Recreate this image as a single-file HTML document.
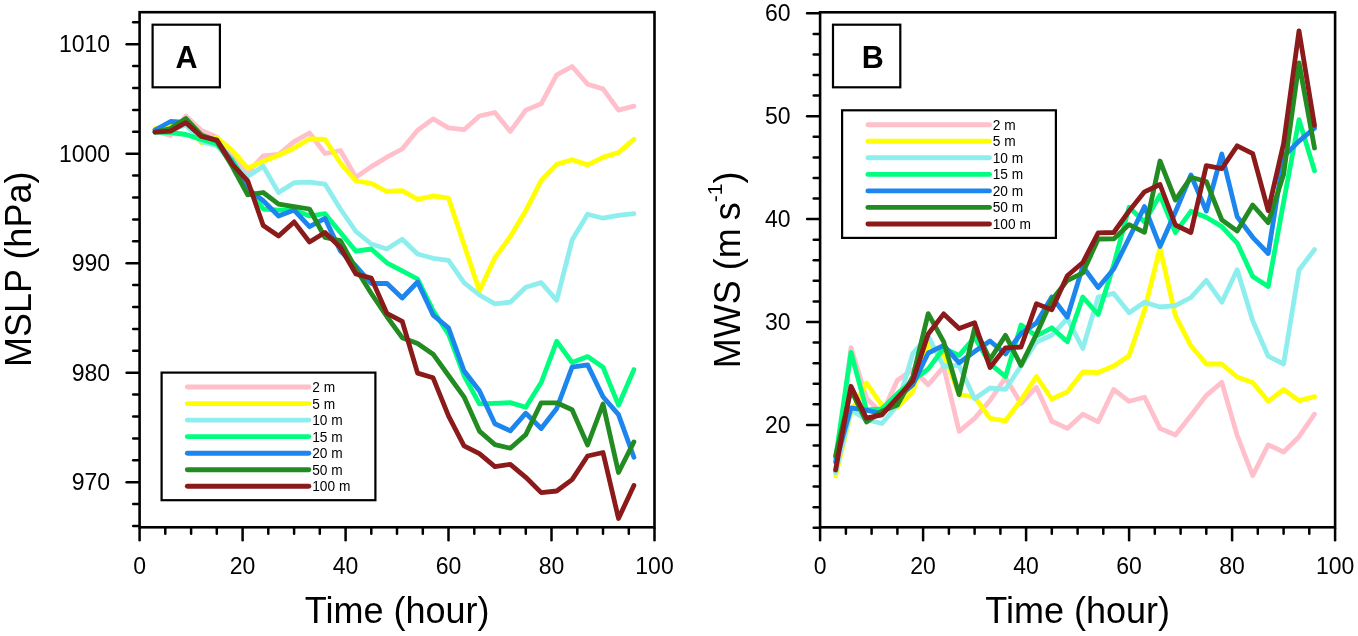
<!DOCTYPE html>
<html><head><meta charset="utf-8"><style>
html,body{margin:0;padding:0;background:#fff;width:1358px;height:636px;overflow:hidden}
svg{display:block;will-change:transform}
text{font-family:"Liberation Sans", sans-serif;fill:#000}
.tk{font-size:23px}
.tt{font-size:36px}
.lb{font-size:30.5px;font-weight:bold}
.lg{font-size:14.7px}
</style></head><body>
<svg width="1358" height="636" viewBox="0 0 1358 636">
<rect width="1358" height="636" fill="#fff"/>
<polyline points="155.0,131.0 170.5,135.4 185.9,116.0 201.4,130.5 216.8,137.0 232.3,155.0 247.7,172.3 263.2,155.9 278.6,154.5 294.1,141.7 309.5,133.0 325.0,153.5 340.4,150.5 355.9,177.3 371.3,166.6 386.8,157.2 402.2,149.0 417.6,130.2 433.1,118.9 448.5,127.8 464.0,129.7 479.4,116.0 494.9,112.5 510.3,131.4 525.8,110.1 541.2,103.8 556.7,74.8 572.1,66.5 587.6,84.2 603.0,88.9 618.5,110.1 633.9,106.1" fill="none" stroke="#ffc0cb" stroke-width="4.8" stroke-linejoin="round" stroke-linecap="round"/>
<polyline points="155.0,128.5 170.5,126.0 185.9,122.0 201.4,142.7 216.8,137.5 232.3,150.5 247.7,168.0 263.2,161.5 278.6,155.2 294.1,148.0 309.5,139.0 325.0,139.3 340.4,163.0 355.9,181.0 371.3,183.3 386.8,191.5 402.2,190.7 417.6,199.3 433.1,196.0 448.5,198.2 464.0,244.5 479.4,290.8 494.9,257.8 510.3,236.6 525.8,210.7 541.2,180.5 556.7,164.4 572.1,159.7 587.6,164.9 603.0,157.3 618.5,152.6 633.9,139.2" fill="none" stroke="#ffff00" stroke-width="4.8" stroke-linejoin="round" stroke-linecap="round"/>
<polyline points="155.0,132.0 170.5,130.0 185.9,125.0 201.4,142.0 216.8,145.4 232.3,163.0 247.7,176.5 263.2,166.2 278.6,192.6 294.1,182.7 309.5,182.2 325.0,184.1 340.4,209.0 355.9,231.5 371.3,244.0 386.8,249.0 402.2,239.3 417.6,254.0 433.1,258.3 448.5,260.3 464.0,282.6 479.4,295.0 494.9,303.8 510.3,302.2 525.8,287.3 541.2,282.6 556.7,300.3 572.1,240.1 587.6,214.2 603.0,218.2 618.5,215.4 633.9,213.7" fill="none" stroke="#8eeeee" stroke-width="4.8" stroke-linejoin="round" stroke-linecap="round"/>
<polyline points="155.0,132.0 170.5,132.5 185.9,134.5 201.4,139.5 216.8,144.0 232.3,160.0 247.7,185.0 263.2,209.0 278.6,210.1 294.1,210.1 309.5,216.0 325.0,213.7 340.4,232.5 355.9,251.2 371.3,249.0 386.8,262.8 402.2,270.8 417.6,279.0 433.1,310.6 448.5,334.2 464.0,375.5 479.4,403.8 494.9,403.3 510.3,402.6 525.8,407.3 541.2,382.5 556.7,341.3 572.1,362.5 587.6,356.6 603.0,367.2 618.5,405.2 633.9,369.6" fill="none" stroke="#00ff7f" stroke-width="4.8" stroke-linejoin="round" stroke-linecap="round"/>
<polyline points="155.0,130.0 170.5,121.5 185.9,122.5 201.4,136.0 216.8,140.0 232.3,163.0 247.7,188.9 263.2,200.7 278.6,216.0 294.1,210.1 309.5,226.7 325.0,218.4 340.4,251.0 355.9,266.0 371.3,283.5 386.8,283.3 402.2,298.0 417.6,282.0 433.1,315.1 448.5,327.8 464.0,370.8 479.4,390.8 494.9,423.8 510.3,430.9 525.8,413.2 541.2,428.5 556.7,408.5 572.1,367.2 587.6,364.9 603.0,396.7 618.5,414.6 633.9,457.2" fill="none" stroke="#1c86ee" stroke-width="4.8" stroke-linejoin="round" stroke-linecap="round"/>
<polyline points="155.0,132.0 170.5,128.6 185.9,118.6 201.4,135.0 216.8,141.0 232.3,166.5 247.7,194.8 263.2,192.5 278.6,204.2 294.1,206.6 309.5,209.0 325.0,237.5 340.4,240.7 355.9,268.7 371.3,293.5 386.8,316.5 402.2,337.7 417.6,343.6 433.1,354.2 448.5,375.5 464.0,396.8 479.4,431.1 494.9,444.6 510.3,448.2 525.8,434.6 541.2,402.8 556.7,402.8 572.1,409.8 587.6,445.0 603.0,404.0 618.5,472.5 633.9,441.9" fill="none" stroke="#228b22" stroke-width="4.8" stroke-linejoin="round" stroke-linecap="round"/>
<polyline points="155.0,132.1 170.5,131.2 185.9,122.6 201.4,136.5 216.8,140.1 232.3,164.3 247.7,180.8 263.2,225.5 278.6,236.1 294.1,221.9 309.5,242.0 325.0,232.5 340.4,247.5 355.9,274.0 371.3,278.1 386.8,313.3 402.2,321.3 417.6,373.1 433.1,377.8 448.5,415.8 464.0,445.8 479.4,453.7 494.9,466.7 510.3,464.3 525.8,477.3 541.2,492.6 556.7,491.0 572.1,479.6 587.6,456.0 603.0,452.5 618.5,518.5 633.9,485.5" fill="none" stroke="#8b1a1a" stroke-width="4.8" stroke-linejoin="round" stroke-linecap="round"/>
<rect x="139.6" y="12.2" width="514.9" height="515.1" fill="none" stroke="#000" stroke-width="2.6"/>
<line x1="139.6" y1="528.5" x2="139.6" y2="540.3" stroke="#000" stroke-width="2.5" stroke-linecap="round"/>
<text x="139.6" y="574.1" text-anchor="middle" class="tk">0</text>
<line x1="165.3" y1="528.5" x2="165.3" y2="533.7" stroke="#000" stroke-width="2.5" stroke-linecap="round"/>
<line x1="191.1" y1="528.5" x2="191.1" y2="533.7" stroke="#000" stroke-width="2.5" stroke-linecap="round"/>
<line x1="216.8" y1="528.5" x2="216.8" y2="533.7" stroke="#000" stroke-width="2.5" stroke-linecap="round"/>
<line x1="242.6" y1="528.5" x2="242.6" y2="540.3" stroke="#000" stroke-width="2.5" stroke-linecap="round"/>
<text x="242.6" y="574.1" text-anchor="middle" class="tk">20</text>
<line x1="268.3" y1="528.5" x2="268.3" y2="533.7" stroke="#000" stroke-width="2.5" stroke-linecap="round"/>
<line x1="294.1" y1="528.5" x2="294.1" y2="533.7" stroke="#000" stroke-width="2.5" stroke-linecap="round"/>
<line x1="319.8" y1="528.5" x2="319.8" y2="533.7" stroke="#000" stroke-width="2.5" stroke-linecap="round"/>
<line x1="345.6" y1="528.5" x2="345.6" y2="540.3" stroke="#000" stroke-width="2.5" stroke-linecap="round"/>
<text x="345.6" y="574.1" text-anchor="middle" class="tk">40</text>
<line x1="371.3" y1="528.5" x2="371.3" y2="533.7" stroke="#000" stroke-width="2.5" stroke-linecap="round"/>
<line x1="397.0" y1="528.5" x2="397.0" y2="533.7" stroke="#000" stroke-width="2.5" stroke-linecap="round"/>
<line x1="422.8" y1="528.5" x2="422.8" y2="533.7" stroke="#000" stroke-width="2.5" stroke-linecap="round"/>
<line x1="448.5" y1="528.5" x2="448.5" y2="540.3" stroke="#000" stroke-width="2.5" stroke-linecap="round"/>
<text x="448.5" y="574.1" text-anchor="middle" class="tk">60</text>
<line x1="474.3" y1="528.5" x2="474.3" y2="533.7" stroke="#000" stroke-width="2.5" stroke-linecap="round"/>
<line x1="500.0" y1="528.5" x2="500.0" y2="533.7" stroke="#000" stroke-width="2.5" stroke-linecap="round"/>
<line x1="525.8" y1="528.5" x2="525.8" y2="533.7" stroke="#000" stroke-width="2.5" stroke-linecap="round"/>
<line x1="551.5" y1="528.5" x2="551.5" y2="540.3" stroke="#000" stroke-width="2.5" stroke-linecap="round"/>
<text x="551.5" y="574.1" text-anchor="middle" class="tk">80</text>
<line x1="577.3" y1="528.5" x2="577.3" y2="533.7" stroke="#000" stroke-width="2.5" stroke-linecap="round"/>
<line x1="603.0" y1="528.5" x2="603.0" y2="533.7" stroke="#000" stroke-width="2.5" stroke-linecap="round"/>
<line x1="628.8" y1="528.5" x2="628.8" y2="533.7" stroke="#000" stroke-width="2.5" stroke-linecap="round"/>
<line x1="654.5" y1="528.5" x2="654.5" y2="540.3" stroke="#000" stroke-width="2.5" stroke-linecap="round"/>
<text x="654.5" y="574.1" text-anchor="middle" class="tk">100</text>
<line x1="133.2" y1="526.0" x2="138.3" y2="526.0" stroke="#000" stroke-width="2.5" stroke-linecap="round"/>
<line x1="133.2" y1="504.1" x2="138.3" y2="504.1" stroke="#000" stroke-width="2.5" stroke-linecap="round"/>
<line x1="126.6" y1="482.2" x2="138.3" y2="482.2" stroke="#000" stroke-width="2.5" stroke-linecap="round"/>
<text x="110.1" y="490.0" text-anchor="end" class="tk">970</text>
<line x1="133.2" y1="460.3" x2="138.3" y2="460.3" stroke="#000" stroke-width="2.5" stroke-linecap="round"/>
<line x1="133.2" y1="438.4" x2="138.3" y2="438.4" stroke="#000" stroke-width="2.5" stroke-linecap="round"/>
<line x1="133.2" y1="416.5" x2="138.3" y2="416.5" stroke="#000" stroke-width="2.5" stroke-linecap="round"/>
<line x1="133.2" y1="394.6" x2="138.3" y2="394.6" stroke="#000" stroke-width="2.5" stroke-linecap="round"/>
<line x1="126.6" y1="372.7" x2="138.3" y2="372.7" stroke="#000" stroke-width="2.5" stroke-linecap="round"/>
<text x="110.1" y="380.5" text-anchor="end" class="tk">980</text>
<line x1="133.2" y1="350.8" x2="138.3" y2="350.8" stroke="#000" stroke-width="2.5" stroke-linecap="round"/>
<line x1="133.2" y1="328.9" x2="138.3" y2="328.9" stroke="#000" stroke-width="2.5" stroke-linecap="round"/>
<line x1="133.2" y1="307.0" x2="138.3" y2="307.0" stroke="#000" stroke-width="2.5" stroke-linecap="round"/>
<line x1="133.2" y1="285.1" x2="138.3" y2="285.1" stroke="#000" stroke-width="2.5" stroke-linecap="round"/>
<line x1="126.6" y1="263.2" x2="138.3" y2="263.2" stroke="#000" stroke-width="2.5" stroke-linecap="round"/>
<text x="110.1" y="271.0" text-anchor="end" class="tk">990</text>
<line x1="133.2" y1="241.3" x2="138.3" y2="241.3" stroke="#000" stroke-width="2.5" stroke-linecap="round"/>
<line x1="133.2" y1="219.4" x2="138.3" y2="219.4" stroke="#000" stroke-width="2.5" stroke-linecap="round"/>
<line x1="133.2" y1="197.5" x2="138.3" y2="197.5" stroke="#000" stroke-width="2.5" stroke-linecap="round"/>
<line x1="133.2" y1="175.6" x2="138.3" y2="175.6" stroke="#000" stroke-width="2.5" stroke-linecap="round"/>
<line x1="126.6" y1="153.7" x2="138.3" y2="153.7" stroke="#000" stroke-width="2.5" stroke-linecap="round"/>
<text x="110.1" y="161.5" text-anchor="end" class="tk">1000</text>
<line x1="133.2" y1="131.8" x2="138.3" y2="131.8" stroke="#000" stroke-width="2.5" stroke-linecap="round"/>
<line x1="133.2" y1="109.9" x2="138.3" y2="109.9" stroke="#000" stroke-width="2.5" stroke-linecap="round"/>
<line x1="133.2" y1="88.0" x2="138.3" y2="88.0" stroke="#000" stroke-width="2.5" stroke-linecap="round"/>
<line x1="133.2" y1="66.1" x2="138.3" y2="66.1" stroke="#000" stroke-width="2.5" stroke-linecap="round"/>
<line x1="126.6" y1="44.2" x2="138.3" y2="44.2" stroke="#000" stroke-width="2.5" stroke-linecap="round"/>
<text x="110.1" y="52.0" text-anchor="end" class="tk">1010</text>
<line x1="133.2" y1="22.3" x2="138.3" y2="22.3" stroke="#000" stroke-width="2.5" stroke-linecap="round"/>
<rect x="152.6" y="24.7" width="67.3" height="62.6" fill="#fff" stroke="#000" stroke-width="2.2"/>
<text x="186.4" y="67.9" text-anchor="middle" class="lb">A</text>
<rect x="161.6" y="372.6" width="213.8" height="127.6" fill="#fff" stroke="#000" stroke-width="2.2"/>
<line x1="187.3" y1="387.0" x2="308.9" y2="387.0" stroke="#ffc0cb" stroke-width="4.9" stroke-linecap="round"/>
<text transform="translate(312.20,391.95) scale(0.934,1)" class="lg">2 m</text>
<line x1="187.3" y1="403.6" x2="308.9" y2="403.6" stroke="#ffff00" stroke-width="4.9" stroke-linecap="round"/>
<text transform="translate(312.20,408.50) scale(0.934,1)" class="lg">5 m</text>
<line x1="187.3" y1="420.1" x2="308.9" y2="420.1" stroke="#8eeeee" stroke-width="4.9" stroke-linecap="round"/>
<text transform="translate(312.20,425.05) scale(0.934,1)" class="lg">10 m</text>
<line x1="187.3" y1="436.6" x2="308.9" y2="436.6" stroke="#00ff7f" stroke-width="4.9" stroke-linecap="round"/>
<text transform="translate(312.20,441.60) scale(0.934,1)" class="lg">15 m</text>
<line x1="187.3" y1="453.2" x2="308.9" y2="453.2" stroke="#1c86ee" stroke-width="4.9" stroke-linecap="round"/>
<text transform="translate(312.20,458.15) scale(0.934,1)" class="lg">20 m</text>
<line x1="187.3" y1="469.8" x2="308.9" y2="469.8" stroke="#228b22" stroke-width="4.9" stroke-linecap="round"/>
<text transform="translate(312.20,474.70) scale(0.934,1)" class="lg">50 m</text>
<line x1="187.3" y1="486.3" x2="308.9" y2="486.3" stroke="#8b1a1a" stroke-width="4.9" stroke-linecap="round"/>
<text transform="translate(312.20,491.25) scale(0.934,1)" class="lg">100 m</text>
<text x="397.1" y="622.7" text-anchor="middle" class="tt">Time (hour)</text>
<text transform="translate(31.4,367) rotate(-90)" class="tt">MSLP (hPa)</text>
<polyline points="835.6,472.0 851.0,347.7 866.5,398.3 881.9,413.7 897.4,380.2 912.8,369.5 928.2,384.8 943.7,366.9 959.1,431.3 974.6,418.4 990.0,400.5 1005.5,377.7 1021.0,403.5 1036.4,387.2 1051.8,421.3 1067.3,428.4 1082.8,414.2 1098.2,421.8 1113.7,389.5 1129.1,401.3 1144.5,397.3 1160.0,428.4 1175.4,435.0 1190.9,415.4 1206.3,395.4 1221.8,382.4 1237.2,435.5 1252.7,475.6 1268.2,444.9 1283.6,452.0 1299.0,436.7 1314.5,414.2" fill="none" stroke="#ffc0cb" stroke-width="4.8" stroke-linejoin="round" stroke-linecap="round"/>
<polyline points="835.6,476.0 851.0,412.0 866.5,383.0 881.9,405.4 897.4,407.3 912.8,391.4 928.2,344.2 943.7,353.9 959.1,394.6 974.6,397.0 990.0,418.4 1005.5,420.8 1021.0,400.0 1036.4,376.5 1051.8,399.0 1067.3,391.9 1082.8,372.0 1098.2,372.5 1113.7,366.0 1129.1,355.8 1144.5,310.2 1160.0,248.0 1175.4,315.7 1190.9,345.8 1206.3,364.0 1221.8,364.0 1237.2,377.0 1252.7,382.4 1268.2,401.3 1283.6,389.5 1299.0,400.6 1314.5,396.6" fill="none" stroke="#ffff00" stroke-width="4.8" stroke-linejoin="round" stroke-linecap="round"/>
<polyline points="835.6,472.6 851.0,410.0 866.5,419.6 881.9,423.5 897.4,405.4 912.8,353.6 928.2,336.0 943.7,366.5 959.1,365.4 974.6,398.7 990.0,388.0 1005.5,389.3 1021.0,366.0 1036.4,342.0 1051.8,335.2 1067.3,318.7 1082.8,348.5 1098.2,297.0 1113.7,293.4 1129.1,312.8 1144.5,302.2 1160.0,307.0 1175.4,305.7 1190.9,297.5 1206.3,280.4 1221.8,302.2 1237.2,269.8 1252.7,320.8 1268.2,356.2 1283.6,364.0 1299.0,270.0 1314.5,249.6" fill="none" stroke="#8eeeee" stroke-width="4.8" stroke-linejoin="round" stroke-linecap="round"/>
<polyline points="835.6,458.0 851.0,352.4 866.5,410.0 881.9,409.0 897.4,393.6 912.8,380.7 928.2,369.0 943.7,348.3 959.1,355.4 974.6,337.4 990.0,363.7 1005.5,376.7 1021.0,325.0 1036.4,336.0 1051.8,327.8 1067.3,341.8 1082.8,297.0 1098.2,314.5 1113.7,265.0 1129.1,207.2 1144.5,221.9 1160.0,195.0 1175.4,232.5 1190.9,211.3 1206.3,217.2 1221.8,226.6 1237.2,243.1 1252.7,276.4 1268.2,286.5 1283.6,202.0 1299.0,119.6 1314.5,170.7" fill="none" stroke="#00ff7f" stroke-width="4.8" stroke-linejoin="round" stroke-linecap="round"/>
<polyline points="835.6,462.0 851.0,407.9 866.5,410.1 881.9,413.7 897.4,398.3 912.8,384.8 928.2,353.0 943.7,345.4 959.1,362.8 974.6,351.6 990.0,341.0 1005.5,354.0 1021.0,333.6 1036.4,323.0 1051.8,297.0 1067.3,317.2 1082.8,266.5 1098.2,287.5 1113.7,269.0 1129.1,238.0 1144.5,206.6 1160.0,246.4 1175.4,212.0 1190.9,175.0 1206.3,211.0 1221.8,154.0 1237.2,216.8 1252.7,237.3 1268.2,253.5 1283.6,156.6 1299.0,141.1 1314.5,128.1" fill="none" stroke="#1c86ee" stroke-width="4.8" stroke-linejoin="round" stroke-linecap="round"/>
<polyline points="835.6,456.0 851.0,390.0 866.5,422.0 881.9,411.3 897.4,405.0 912.8,377.0 928.2,313.6 943.7,341.9 959.1,394.6 974.6,328.0 990.0,359.5 1005.5,335.4 1021.0,365.4 1036.4,334.3 1051.8,300.0 1067.3,280.6 1082.8,272.8 1098.2,239.0 1113.7,238.9 1129.1,224.6 1144.5,232.3 1160.0,161.0 1175.4,200.0 1190.9,177.3 1206.3,181.5 1221.8,219.9 1237.2,231.0 1252.7,205.0 1268.2,222.6 1283.6,174.2 1299.0,62.8 1314.5,148.0" fill="none" stroke="#228b22" stroke-width="4.8" stroke-linejoin="round" stroke-linecap="round"/>
<polyline points="835.6,470.0 851.0,386.3 866.5,418.2 881.9,414.8 897.4,397.5 912.8,380.8 928.2,334.0 943.7,313.9 959.1,328.6 974.6,322.7 990.0,367.5 1005.5,347.8 1021.0,347.0 1036.4,303.8 1051.8,309.7 1067.3,275.8 1082.8,262.5 1098.2,232.8 1113.7,232.5 1129.1,211.0 1144.5,191.8 1160.0,184.5 1175.4,225.0 1190.9,232.5 1206.3,165.6 1221.8,168.7 1237.2,145.8 1252.7,153.7 1268.2,210.6 1283.6,143.5 1299.0,30.8 1314.5,125.4" fill="none" stroke="#8b1a1a" stroke-width="4.8" stroke-linejoin="round" stroke-linecap="round"/>
<rect x="820.1" y="12.3" width="515.0" height="515.0" fill="none" stroke="#000" stroke-width="2.6"/>
<line x1="820.1" y1="528.5" x2="820.1" y2="540.3" stroke="#000" stroke-width="2.5" stroke-linecap="round"/>
<text x="820.1" y="574.1" text-anchor="middle" class="tk">0</text>
<line x1="845.9" y1="528.5" x2="845.9" y2="533.7" stroke="#000" stroke-width="2.5" stroke-linecap="round"/>
<line x1="871.6" y1="528.5" x2="871.6" y2="533.7" stroke="#000" stroke-width="2.5" stroke-linecap="round"/>
<line x1="897.4" y1="528.5" x2="897.4" y2="533.7" stroke="#000" stroke-width="2.5" stroke-linecap="round"/>
<line x1="923.1" y1="528.5" x2="923.1" y2="540.3" stroke="#000" stroke-width="2.5" stroke-linecap="round"/>
<text x="923.1" y="574.1" text-anchor="middle" class="tk">20</text>
<line x1="948.9" y1="528.5" x2="948.9" y2="533.7" stroke="#000" stroke-width="2.5" stroke-linecap="round"/>
<line x1="974.6" y1="528.5" x2="974.6" y2="533.7" stroke="#000" stroke-width="2.5" stroke-linecap="round"/>
<line x1="1000.4" y1="528.5" x2="1000.4" y2="533.7" stroke="#000" stroke-width="2.5" stroke-linecap="round"/>
<line x1="1026.1" y1="528.5" x2="1026.1" y2="540.3" stroke="#000" stroke-width="2.5" stroke-linecap="round"/>
<text x="1026.1" y="574.1" text-anchor="middle" class="tk">40</text>
<line x1="1051.8" y1="528.5" x2="1051.8" y2="533.7" stroke="#000" stroke-width="2.5" stroke-linecap="round"/>
<line x1="1077.6" y1="528.5" x2="1077.6" y2="533.7" stroke="#000" stroke-width="2.5" stroke-linecap="round"/>
<line x1="1103.3" y1="528.5" x2="1103.3" y2="533.7" stroke="#000" stroke-width="2.5" stroke-linecap="round"/>
<line x1="1129.1" y1="528.5" x2="1129.1" y2="540.3" stroke="#000" stroke-width="2.5" stroke-linecap="round"/>
<text x="1129.1" y="574.1" text-anchor="middle" class="tk">60</text>
<line x1="1154.8" y1="528.5" x2="1154.8" y2="533.7" stroke="#000" stroke-width="2.5" stroke-linecap="round"/>
<line x1="1180.6" y1="528.5" x2="1180.6" y2="533.7" stroke="#000" stroke-width="2.5" stroke-linecap="round"/>
<line x1="1206.3" y1="528.5" x2="1206.3" y2="533.7" stroke="#000" stroke-width="2.5" stroke-linecap="round"/>
<line x1="1232.1" y1="528.5" x2="1232.1" y2="540.3" stroke="#000" stroke-width="2.5" stroke-linecap="round"/>
<text x="1232.1" y="574.1" text-anchor="middle" class="tk">80</text>
<line x1="1257.8" y1="528.5" x2="1257.8" y2="533.7" stroke="#000" stroke-width="2.5" stroke-linecap="round"/>
<line x1="1283.6" y1="528.5" x2="1283.6" y2="533.7" stroke="#000" stroke-width="2.5" stroke-linecap="round"/>
<line x1="1309.3" y1="528.5" x2="1309.3" y2="533.7" stroke="#000" stroke-width="2.5" stroke-linecap="round"/>
<line x1="1335.1" y1="528.5" x2="1335.1" y2="540.3" stroke="#000" stroke-width="2.5" stroke-linecap="round"/>
<text x="1335.1" y="574.1" text-anchor="middle" class="tk">100</text>
<line x1="813.7" y1="527.8" x2="818.9" y2="527.8" stroke="#000" stroke-width="2.5" stroke-linecap="round"/>
<line x1="813.7" y1="507.2" x2="818.9" y2="507.2" stroke="#000" stroke-width="2.5" stroke-linecap="round"/>
<line x1="813.7" y1="486.6" x2="818.9" y2="486.6" stroke="#000" stroke-width="2.5" stroke-linecap="round"/>
<line x1="813.7" y1="466.1" x2="818.9" y2="466.1" stroke="#000" stroke-width="2.5" stroke-linecap="round"/>
<line x1="813.7" y1="445.5" x2="818.9" y2="445.5" stroke="#000" stroke-width="2.5" stroke-linecap="round"/>
<line x1="807.1" y1="424.9" x2="818.9" y2="424.9" stroke="#000" stroke-width="2.5" stroke-linecap="round"/>
<text x="790.6" y="432.7" text-anchor="end" class="tk">20</text>
<line x1="813.7" y1="404.3" x2="818.9" y2="404.3" stroke="#000" stroke-width="2.5" stroke-linecap="round"/>
<line x1="813.7" y1="383.7" x2="818.9" y2="383.7" stroke="#000" stroke-width="2.5" stroke-linecap="round"/>
<line x1="813.7" y1="363.2" x2="818.9" y2="363.2" stroke="#000" stroke-width="2.5" stroke-linecap="round"/>
<line x1="813.7" y1="342.6" x2="818.9" y2="342.6" stroke="#000" stroke-width="2.5" stroke-linecap="round"/>
<line x1="807.1" y1="322.0" x2="818.9" y2="322.0" stroke="#000" stroke-width="2.5" stroke-linecap="round"/>
<text x="790.6" y="329.8" text-anchor="end" class="tk">30</text>
<line x1="813.7" y1="301.4" x2="818.9" y2="301.4" stroke="#000" stroke-width="2.5" stroke-linecap="round"/>
<line x1="813.7" y1="280.8" x2="818.9" y2="280.8" stroke="#000" stroke-width="2.5" stroke-linecap="round"/>
<line x1="813.7" y1="260.3" x2="818.9" y2="260.3" stroke="#000" stroke-width="2.5" stroke-linecap="round"/>
<line x1="813.7" y1="239.7" x2="818.9" y2="239.7" stroke="#000" stroke-width="2.5" stroke-linecap="round"/>
<line x1="807.1" y1="219.1" x2="818.9" y2="219.1" stroke="#000" stroke-width="2.5" stroke-linecap="round"/>
<text x="790.6" y="226.9" text-anchor="end" class="tk">40</text>
<line x1="813.7" y1="198.5" x2="818.9" y2="198.5" stroke="#000" stroke-width="2.5" stroke-linecap="round"/>
<line x1="813.7" y1="177.9" x2="818.9" y2="177.9" stroke="#000" stroke-width="2.5" stroke-linecap="round"/>
<line x1="813.7" y1="157.4" x2="818.9" y2="157.4" stroke="#000" stroke-width="2.5" stroke-linecap="round"/>
<line x1="813.7" y1="136.8" x2="818.9" y2="136.8" stroke="#000" stroke-width="2.5" stroke-linecap="round"/>
<line x1="807.1" y1="116.2" x2="818.9" y2="116.2" stroke="#000" stroke-width="2.5" stroke-linecap="round"/>
<text x="790.6" y="124.0" text-anchor="end" class="tk">50</text>
<line x1="813.7" y1="95.6" x2="818.9" y2="95.6" stroke="#000" stroke-width="2.5" stroke-linecap="round"/>
<line x1="813.7" y1="75.0" x2="818.9" y2="75.0" stroke="#000" stroke-width="2.5" stroke-linecap="round"/>
<line x1="813.7" y1="54.5" x2="818.9" y2="54.5" stroke="#000" stroke-width="2.5" stroke-linecap="round"/>
<line x1="813.7" y1="33.9" x2="818.9" y2="33.9" stroke="#000" stroke-width="2.5" stroke-linecap="round"/>
<line x1="807.1" y1="13.3" x2="818.9" y2="13.3" stroke="#000" stroke-width="2.5" stroke-linecap="round"/>
<text x="790.6" y="21.1" text-anchor="end" class="tk">60</text>
<rect x="833.0" y="24.7" width="67.3" height="62.6" fill="#fff" stroke="#000" stroke-width="2.2"/>
<text x="872.8" y="67.9" text-anchor="middle" class="lb">B</text>
<rect x="842.1" y="110.3" width="213.8" height="127.6" fill="#fff" stroke="#000" stroke-width="2.2"/>
<line x1="867.9" y1="124.7" x2="989.5" y2="124.7" stroke="#ffc0cb" stroke-width="4.9" stroke-linecap="round"/>
<text transform="translate(992.70,129.65) scale(0.934,1)" class="lg">2 m</text>
<line x1="867.9" y1="141.2" x2="989.5" y2="141.2" stroke="#ffff00" stroke-width="4.9" stroke-linecap="round"/>
<text transform="translate(992.70,146.20) scale(0.934,1)" class="lg">5 m</text>
<line x1="867.9" y1="157.8" x2="989.5" y2="157.8" stroke="#8eeeee" stroke-width="4.9" stroke-linecap="round"/>
<text transform="translate(992.70,162.75) scale(0.934,1)" class="lg">10 m</text>
<line x1="867.9" y1="174.4" x2="989.5" y2="174.4" stroke="#00ff7f" stroke-width="4.9" stroke-linecap="round"/>
<text transform="translate(992.70,179.30) scale(0.934,1)" class="lg">15 m</text>
<line x1="867.9" y1="190.9" x2="989.5" y2="190.9" stroke="#1c86ee" stroke-width="4.9" stroke-linecap="round"/>
<text transform="translate(992.70,195.85) scale(0.934,1)" class="lg">20 m</text>
<line x1="867.9" y1="207.4" x2="989.5" y2="207.4" stroke="#228b22" stroke-width="4.9" stroke-linecap="round"/>
<text transform="translate(992.70,212.40) scale(0.934,1)" class="lg">50 m</text>
<line x1="867.9" y1="224.0" x2="989.5" y2="224.0" stroke="#8b1a1a" stroke-width="4.9" stroke-linecap="round"/>
<text transform="translate(992.70,228.95) scale(0.934,1)" class="lg">100 m</text>
<text x="1077.6" y="622.7" text-anchor="middle" class="tt">Time (hour)</text>
<text transform="translate(740.3,368.2) rotate(-90)" class="tt">MWS (m <tspan dx="-2">s</tspan><tspan dy="-18" font-size="21">-1</tspan><tspan dy="18">)</tspan></text>
</svg>
</body></html>
